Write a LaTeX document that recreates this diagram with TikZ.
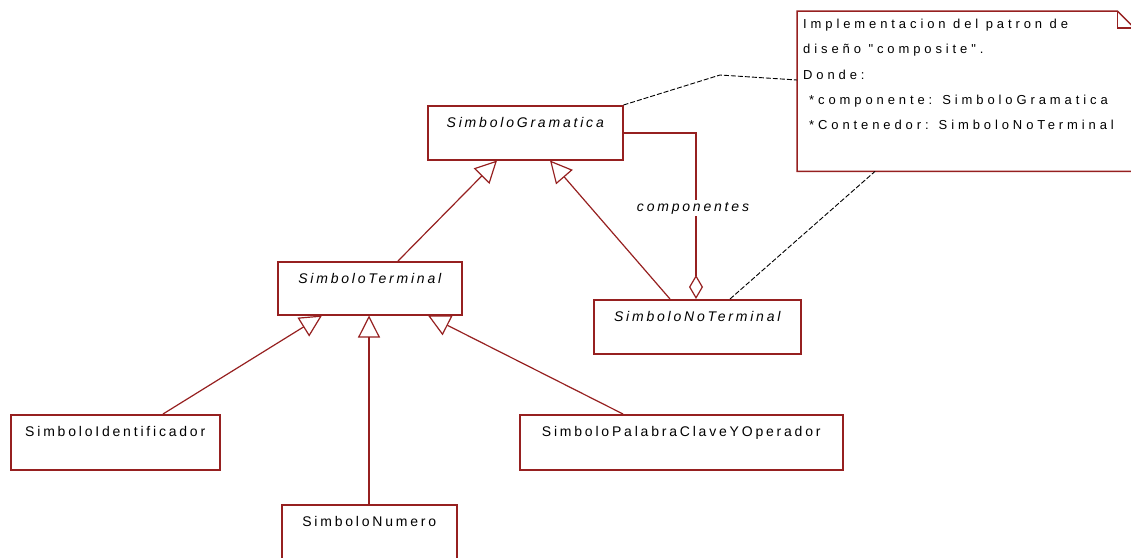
\documentclass[tikz,border=0pt]{standalone}
\usepackage{fontspec}
\setmainfont{Liberation Sans}
\newfontfamily\clsfont[LetterSpace=20]{Liberation Sans}
\newfontfamily\notefont[LetterSpace=30]{Liberation Sans}
\usetikzlibrary{arrows.meta,calc}
\definecolor{boxred}{RGB}{150,32,32}
\tikzset{
  cls/.style={draw=boxred, line width=1.5pt, anchor=north west, inner xsep=0pt, inner ysep=0pt,
    text height=22pt, text depth=32pt, font=\clsfont\fontsize{14}{16}\selectfont},
  gen/.style={draw=boxred, line width=1.2pt, -{Triangle[length=22pt,width=22pt,fill=white,line width=1.2pt]}},
  agg/.style={draw=boxred, line width=1.2pt, -{Diamond[length=24pt,width=14pt,fill=white,line width=1.2pt]}},
  noteline/.style={draw=black, line width=0.9pt, dash pattern=on 5pt off 2pt},
  lbl/.style={fill=white, inner sep=2pt, font=\clsfont\itshape\fontsize{14}{16}\selectfont},
}
\begin{document}
\begin{tikzpicture}[x=1pt,y=-1pt]
\useasboundingbox (0,0) rectangle (1131,557);
\node[cls, minimum width=195pt] (sg) at (427,105) {\itshape SimboloGramatica};
\node[cls, minimum width=184pt, text depth=31pt] (st) at (277,261) {\itshape SimboloTerminal};
\node[cls, minimum width=207pt] (snt) at (593,299) {\itshape SimboloNoTerminal};
\node[cls, minimum width=209pt, text depth=33pt] (sid) at (10,414) {SimboloIdentificador};
\node[cls, minimum width=323pt, text depth=33pt] (spc) at (519,414) {SimboloPalabraClaveYOperador};
\node[cls, minimum width=175pt, text depth=60pt] (sn) at (281,504) {SimboloNumero};
% note
\node[anchor=north west, minimum width=337pt, minimum height=160pt, inner sep=0pt] (note) at (797,11) {};
\draw[boxred, line width=1.5pt] (note.north west) -- ($(note.north east)+(-17,0)$) -- ($(note.north east)+(0,17)$) -- (note.south east) -- (note.south west) -- cycle;
\draw[boxred, line width=1.5pt] ($(note.north east)+(-17,0)$) |- ($(note.north east)+(0,17)$);
\node[anchor=north west, inner sep=0pt, align=left, font=\notefont\fontsize{13}{25.3}\selectfont] (notetxt) at ($(note.north west)+(6,8)$)
  {Implementacion del patron de\\diseño "composite".\\Donde:\\\hspace*{6pt}*componente: SimboloGramatica\\\hspace*{6pt}*Contenedor: SimboloNoTerminal};
% generalizations
\draw[gen] ($(st.north west)+(121,0)$) -- ($(sg.south west)+(70,0)$);
\draw[gen] ($(snt.north west)+(77,0)$) -- ($(sg.south west)+(123,0)$);
\draw[gen] ($(sid.north west)+(153,0)$) -- ($(st.south west)+(45,0)$);
\draw[gen] ($(sn.north west)+(88,0)$) -- ($(st.south west)+(92,0)$);
\draw[gen] ($(spc.north west)+(104,0)$) -- ($(st.south west)+(151,0)$);
% aggregation
\draw[agg] ($(sg.north east)+(0,28)$) -| ($(snt.north west)+(103,0)$);
\node[lbl] (comp) at (693,208) {componentes};
% note anchors
\coordinate (bend) at (720,75);
\draw[noteline] (sg.north east) -- (bend) -- ($(note.north west)+(0,69)$);
\draw[noteline] ($(snt.north west)+(137,0)$) -- ($(note.south west)+(78,0)$);
\end{tikzpicture}
\end{document}
